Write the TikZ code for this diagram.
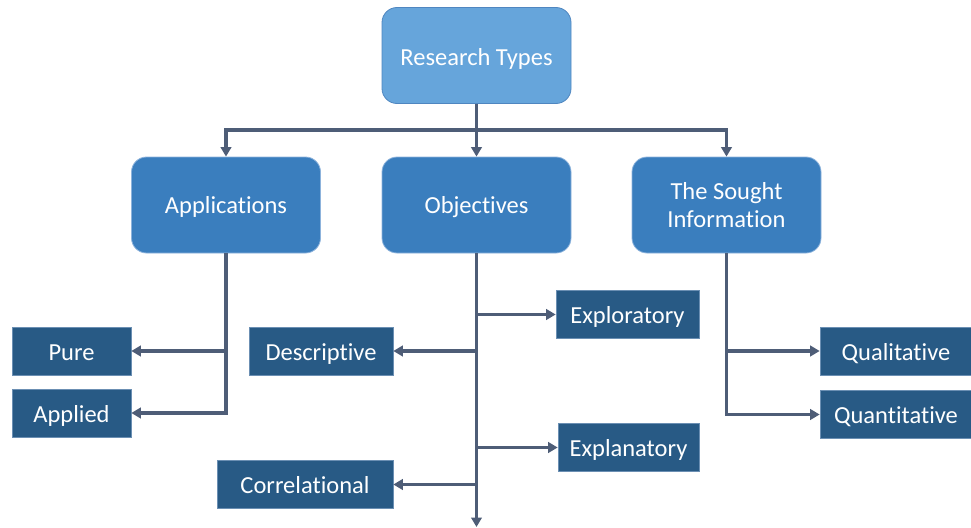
\documentclass[tikz,border=0pt]{standalone}
\usepackage{fontspec}
\setmainfont{Carlito}[Ligatures=NoCommon]
\usetikzlibrary{arrows.meta}
\definecolor{topblue}{HTML}{66A5DB}
\definecolor{topedge}{HTML}{4F86C0}
\definecolor{midblue}{HTML}{3A7EBE}
\definecolor{midedge}{HTML}{8DB3DC}
\definecolor{leafblue}{HTML}{285A85}
\definecolor{leafedge}{HTML}{6B8FB3}
\definecolor{connc}{HTML}{4E5D77}
\tikzset{
  boxfont/.style={font=\fontsize{24.5}{28}\selectfont},
  topbox/.style={draw=topedge, line width=0.8pt, fill=topblue, rounded corners=15pt, minimum width=189pt, minimum height=96pt, text=white, boxfont, inner sep=0pt, text height=22pt, text depth=2.5pt},
  midbox/.style={draw=midedge, line width=0.8pt, fill=midblue, rounded corners=15pt, minimum width=189pt, minimum height=96pt, text=white, boxfont, inner sep=0pt, text height=19pt, text depth=3pt},
  leafbox/.style={draw=leafedge, line width=0.6pt, fill=leafblue, minimum height=48pt, text=white, boxfont, inner sep=0pt, text height=21pt, text depth=3pt},
  conn/.style={draw=connc, line width=3.7pt, -{Triangle[length=9.5pt,width=10.5pt]}}
}
\begin{document}
\begin{tikzpicture}[x=1pt,y=-1pt]
\useasboundingbox (0,0) rectangle (971,527);
% top
\node[topbox] (rt) at (476.5,55.5) {Research Types};
% middle
\node[midbox] (app) at (226,205) {Applications};
\node[midbox] (obj) at (476.5,205) {Objectives};
\node[midbox, align=center, text height=46pt, text depth=2pt] (sought) at (726.5,205) {The Sought\\Information};
% leaves
\node[leafbox, minimum width=119pt] (pure) at (71.5,351) {Pure};
\node[leafbox, minimum width=119pt] (applied) at (71.5,413) {Applied};
\node[leafbox, minimum width=144pt] (desc) at (321,351) {Descriptive};
\node[leafbox, minimum width=143pt] (explo) at (627.5,314.5) {Exploratory};
\node[leafbox, minimum width=141pt] (expla) at (628.5,447.5) {Explanatory};
\node[leafbox, minimum width=176pt] (corr) at (305,484.5) {Correlational};
\node[leafbox, minimum width=152pt] (qual) at (896,351) {Qualitative};
\node[leafbox, minimum width=152pt] (quan) at (896,414.5) {Quantitative};
% bus
\coordinate (bus) at (476.5,130);
\coordinate (objend) at (476.5,527);
\draw[conn] (rt.south) -- (obj.north);
\draw[conn] (bus) -| (app.north);
\draw[conn] (bus) -| (sought.north);
% applications
\draw[conn] (app.south) |- (applied.east);
\draw[conn] (app.south |- pure.east) -- (pure.east);
% objectives
\draw[conn] (obj.south) -- (objend);
\draw[conn] (obj.south |- explo.west) -- (explo.west);
\draw[conn] (obj.south |- desc.east) -- (desc.east);
\draw[conn] (obj.south |- expla.west) -- (expla.west);
\draw[conn] (obj.south |- corr.east) -- (corr.east);
% sought
\draw[conn] (sought.south) |- (quan.west);
\draw[conn] (sought.south |- qual.west) -- (qual.west);
\end{tikzpicture}
\end{document}
